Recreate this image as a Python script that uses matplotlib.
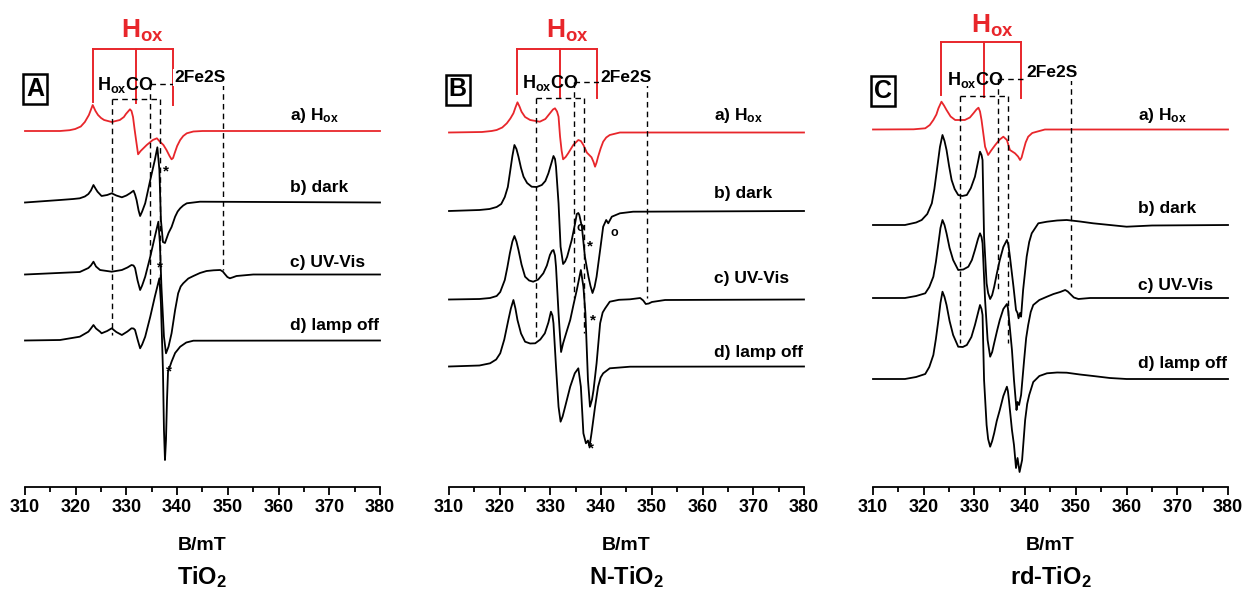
import numpy as np
import matplotlib.pyplot as plt
from matplotlib.ticker import MultipleLocator

plt.rcParams['font.family'] = 'Liberation Sans'
plt.rcParams['font.weight'] = 'bold'
plt.rcParams['mathtext.fontset'] = 'custom'
plt.rcParams['mathtext.rm'] = 'Liberation Sans:bold'
plt.rcParams['mathtext.bf'] = 'Liberation Sans:bold'
plt.rcParams['mathtext.it'] = 'Liberation Sans:bold'

RED = '#e8262b'

## EPR traces: (field / mT, intensity / a.u. relative to the trace baseline)
# panel A, TiO2
tio2_hox = [(310, 0), (316.9, 0), (318.8, 0.8), (319.9, 2), (321.0, 4.5), (321.8, 9), (322.6, 16),
            (323.35, 26), (323.9, 20), (324.4, 16), (325.0, 13), (325.6, 11), (327.1, 9), (328.7, 11),
            (329.5, 14), (329.9, 17), (330.7, 21.7), (331.0, 20), (331.3, 14), (331.6, 2), (331.9, -9),
            (332.3, -23.3), (332.8, -20), (334.0, -14), (335.2, -9), (336.0, -7.3), (336.6, -10.7),
            (337.3, -14), (337.9, -19), (338.5, -25), (338.9, -28.3), (339.2, -27), (339.5, -22.3),
            (340.0, -15), (340.6, -9), (341.2, -5), (341.9, -2.3), (343.2, -0.5), (345, 0), (380, 0)]
tio2_dark = [(310, 0), (316.9, 2.5), (319.5, 3.5), (320.8, 4.2), (321.8, 6), (322.5, 8.5), (323.0, 12),
             (323.5, 17.5), (323.9, 14), (324.3, 10.8), (325.1, 6.5), (326.2, 7.5), (327.1, 9.2), (328.0, 7),
             (329.1, 5.2), (330.0, 7), (330.7, 9.2), (331.4, 11.8), (331.7, 8), (332.0, 2.5), (332.4, -8),
             (332.7, -13.5), (333.1, -9), (333.7, -0.8), (334.7, 22.5), (335.6, 42.5), (336.1, 55.2),
             (336.5, 32.5), (336.8, -17.5), (337.2, -39.5), (337.6, -40.5), (338.3, -30.5), (338.9, -24.5),
             (339.6, -14.2), (340.1, -9), (340.6, -5.8), (341.2, -3), (341.9, -0.8), (344.5, 0.8), (380, 0)]
tio2_uv = [(310, 0), (320.8, 2.5), (322.5, 6.5), (323.0, 9), (323.5, 12.8), (324.0, 8), (324.8, 4.5),
           (327.1, 2.8), (329.1, 4.5), (330.2, 7), (331.0, 9.5), (331.4, 9), (331.7, 6.5), (332.2, -6),
           (332.7, -15.5), (333.1, -11), (333.7, -2.2), (334.7, 17.8), (335.6, 37.8), (336.3, 52.8),
           (336.6, 31.2), (336.9, -12.2), (337.4, -62.2), (337.8, -78.8), (338.3, -72.2), (338.9, -58.8),
           (339.6, -35.5), (340.2, -18.8), (340.7, -12), (341.2, -8.8), (342.2, -4), (343.2, -1.5),
           (344.5, 1.5), (345.8, 3.5), (347.2, 4.2), (348.5, 4.5), (349.0, 3), (349.4, 0.5), (349.9, -2.5),
           (350.4, -3.8), (351.0, -2.8), (351.7, -1.5), (355.0, 0), (380, 0)]
tio2_off = [(310, 0), (316.9, 0.5), (320.8, 3.8), (322.5, 8.8), (323.0, 12), (323.5, 15.5), (324.0, 12),
            (324.8, 8.8), (325.1, 7.2), (326.2, 9.5), (327.1, 12.2), (328.0, 8.5), (329.1, 5.5),
            (330.2, 9), (331.0, 12.2), (331.4, 12), (331.7, 10.5), (332.2, 1), (332.7, -7.8),
            (333.1, -4), (333.7, 3.8), (334.7, 23.8), (335.6, 43.8), (336.5, 62.2), (336.8, 37.5),
            (337.2, -29.5), (337.4, -89.5), (337.6, -119.5), (337.8, -99.5), (338.0, -59.5),
            (338.2, -31.5), (338.9, -21.2), (339.6, -12.5), (340.6, -6.2), (341.8, -2), (343.2, -0.2),
            (380, 0)]

# panel B, N-TiO2
ntio2_hox = [(310, 0), (316.5, 0.5), (318.4, 1.5), (319.4, 2.5), (320.5, 5), (321.4, 9.2), (322.1, 14),
             (322.7, 19.2), (323.1, 25), (323.5, 30.2), (323.9, 26), (324.3, 20.8), (325.0, 15.5),
             (326.0, 12.5), (327.9, 10.8), (329.0, 13.5), (329.9, 19.2), (330.5, 23), (330.9, 24.2),
             (331.3, 21), (331.6, 15.8), (331.9, -4.2), (332.2, -18), (332.5, -26.8), (333.0, -24.5),
             (333.5, -20.8), (334.5, -12.5), (335.5, -7.5), (336.0, -8.5), (336.5, -12.5), (337.2, -20.2),
             (338.1, -24.8), (338.5, -29.5), (338.8, -34.2), (339.1, -30), (339.4, -24.2), (339.9, -16),
             (340.4, -9.2), (341.0, -5), (341.7, -2.5), (343.7, 0), (380, 0)]
ntio2_dark = [(310, 0), (316.0, 1), (318.0, 2), (319.4, 4), (320.3, 7), (321.0, 14), (321.6, 24),
              (322.0, 37.7), (322.5, 55), (322.9, 66), (323.3, 62), (323.7, 54.3), (324.2, 43),
              (324.7, 34.3), (325.4, 28), (326.3, 24.3), (327.3, 24), (328.3, 26), (329.0, 30),
              (329.6, 37.7), (330.2, 48), (330.6, 55), (330.9, 52), (331.1, 44.3), (331.6, 7.7),
              (332.0, -35.7), (332.5, -53), (332.9, -50.5), (333.3, -45.7), (334.2, -29), (334.8, -14),
              (335.2, -3), (335.5, -2), (335.7, -4), (336.2, -15.7), (336.8, -45.7), (337.5, -65.7),
              (337.9, -75), (338.3, -82), (338.7, -76), (339.1, -65.7), (339.8, -39), (340.4, -15.7),
              (341.0, -9), (341.4, -12.3), (342.1, -5.7), (343.7, -2.3), (346.3, -0.7), (380, 0)]
ntio2_uv = [(310, 0), (316.0, 0.5), (318.1, 1.5), (319.4, 3.5), (320.1, 7.5), (321.0, 19.5), (321.5, 32),
            (322.0, 46.2), (322.5, 58), (322.9, 63.5), (323.3, 58), (323.7, 49.5), (324.3, 35), (325.0, 22.8),
            (325.8, 19), (326.6, 17.8), (327.6, 20), (328.6, 26.2), (329.3, 34), (329.9, 44.5), (330.3, 48.5),
            (330.6, 49.5), (330.9, 44), (331.1, 32.8), (331.6, -13.8), (332.1, -52.5), (332.5, -43.8),
            (333.2, -32), (333.9, -20.5), (334.6, -4), (335.2, 9.5), (335.7, 22), (336.0, 29.5),
            (336.5, 12.8), (336.9, -13.8), (337.4, -80.5), (337.8, -107.2), (338.2, -100), (338.5, -90.5),
            (339.1, -63.8), (339.8, -23.8), (340.3, -13), (340.8, -8.8), (341.7, -2.2), (343.5, -0.3),
            (345.7, 0.2), (347.7, 1.5), (348.3, -1), (348.8, -4.5), (349.4, -4), (350.0, -2.5),
            (352.6, -0.5), (380, 0)]
ntio2_off = [(310, 0), (316.0, 1), (318.1, 3.2), (319.3, 7), (320.1, 13.2), (320.9, 27), (321.7, 46.5),
             (322.2, 58), (322.7, 66.5), (323.1, 58), (323.5, 46.5), (324.2, 33), (325.0, 24.8), (326.0, 23),
             (327.0, 23.2), (328.0, 27), (328.9, 33.2), (329.6, 44), (330.1, 54.8), (330.4, 51), (330.6, 43.2),
             (331.1, -0.2), (331.6, -40.2), (332.0, -55.2), (332.4, -50), (332.9, -40.2), (333.9, -20.2),
             (334.8, -6.8), (335.5, -1.8), (336.0, -20.2), (336.5, -66.8), (337.0, -76.8), (337.4, -74),
             (337.7, -80.2), (338.1, -66.8), (338.8, -40.2), (339.4, -20.2), (339.9, -11), (340.4, -6.8),
             (341.7, -1.8), (345.7, -0.2), (380, 0)]

# panel C, rd-TiO2
rdtio2_hox = [(310, 0), (318.0, 0.2), (320.3, 1.2), (321.2, 4.5), (321.9, 9.5), (322.5, 15), (322.9, 21.2),
              (323.5, 27.8), (324.0, 24), (324.5, 19.5), (325.3, 13), (326.2, 9.5), (328.1, 9.5), (329.1, 12),
              (329.8, 16.2), (330.4, 20), (330.8, 21.8), (331.1, 18), (331.4, 9.5), (332.1, -17.2),
              (332.7, -25.5), (333.3, -21), (334.1, -15.5), (335.0, -10), (335.7, -7.2), (336.4, -10.5),
              (337.0, -20.5), (338.0, -23.8), (338.6, -27), (339.0, -30.5), (339.3, -28), (339.6, -22.2),
              (340.1, -13), (340.6, -7.2), (341.4, -3.5), (342.3, -2.2), (343.9, 0), (380, 0)]
rdtio2_dark = [(310, 0), (316.3, 0), (318.5, 2.5), (319.6, 5), (320.7, 11), (321.6, 21.7), (322.1, 36),
               (322.6, 55), (323.2, 78), (323.7, 90), (324.1, 84), (324.5, 75), (325.0, 59), (325.5, 45),
               (326.1, 36), (326.8, 30), (327.6, 29), (328.5, 30), (329.3, 37), (330.1, 48.3), (330.7, 63),
               (331.1, 73.3), (331.4, 70), (331.6, 65), (331.9, -11.7), (332.4, -58.3), (332.7, -68),
               (333.1, -74), (333.5, -70), (333.9, -61.7), (334.4, -49), (335.0, -35), (335.7, -22),
               (336.4, -15), (336.7, -20), (337.0, -31.7), (337.7, -61.7), (338.2, -85), (338.5, -88),
               (338.7, -93.3), (339.0, -88), (339.2, -91.7), (339.6, -65), (340.3, -31.7), (340.8, -17),
               (341.3, -8.3), (342.6, 1.7), (344.3, 3.3), (346.3, 4.5), (348.2, 5), (350.8, 3.5), (353.4, 1.7),
               (356.7, 0), (360.0, -1.7), (365, -0.5), (380, 0)]
rdtio2_uv = [(310, 0), (316.3, 0), (318.5, 2), (320.3, 4.7), (321.1, 11), (321.9, 21.3), (322.4, 36),
             (322.9, 54.7), (323.3, 70), (323.7, 78), (324.1, 73), (324.5, 64.7), (325.1, 50), (325.8, 38),
             (326.8, 28), (327.8, 28.5), (328.8, 31.3), (329.5, 38), (330.1, 48), (330.7, 59), (331.1, 64.7),
             (331.4, 61), (331.6, 54.7), (332.1, -2), (332.6, -42), (333.1, -58.7), (333.5, -54),
             (333.9, -45), (334.5, -32), (335.0, -22), (335.7, -11), (336.4, -6), (336.6, -10), (336.8, -20),
             (337.4, -52), (337.8, -82), (338.3, -112), (338.5, -104), (338.8, -107), (339.2, -97),
             (339.8, -62), (340.2, -40), (340.6, -27), (341.1, -14), (341.6, -7), (342.8, -2), (344.3, 1.3),
             (345.6, 4), (346.9, 6), (347.9, 8), (348.4, 6.5), (348.9, 4), (349.6, 0.5), (350.5, -1),
             (352.8, 0), (380, 0)]
rdtio2_off = [(310, 0), (316.3, 0), (318.5, 2), (320.3, 5), (321.1, 12), (321.9, 24), (322.4, 40),
              (322.9, 59), (323.3, 76), (323.7, 87.3), (324.1, 82), (324.5, 74), (325.1, 58), (325.8, 44),
              (326.8, 32.3), (327.7, 32), (328.5, 34), (329.4, 42), (330.1, 54), (330.7, 66), (331.1, 74),
              (331.4, 70), (331.6, 64), (331.9, -1), (332.4, -46), (332.7, -60), (333.1, -67.7), (333.5, -62),
              (333.9, -54), (334.4, -42), (335.0, -31), (335.7, -17), (336.4, -7.7), (336.6, -12),
              (336.8, -21), (337.4, -51), (337.8, -66), (338.2, -89), (338.5, -79), (338.9, -93),
              (339.4, -81), (340.0, -41), (340.4, -25), (340.8, -16), (341.6, -3), (342.8, 3), (344.3, 5.7),
              (346.3, 6.5), (348.2, 6.3), (350.8, 4.5), (353.4, 3), (356.7, 1), (360.0, 0), (380, 0)]

trace_labels = [r'a) $\mathbf{H_{ox}}$', 'b) dark', 'c) UV-Vis', 'd) lamp off']
panel_letters = ['A', 'B', 'C']
sample_names = [r'$\mathbf{TiO_2}$', r'$\mathbf{N}$-$\mathbf{TiO_2}$', r'$\mathbf{rd}$-$\mathbf{TiO_2}$']

# g-marker positions (mT)
hox_fields = [323.4, 331.8, 339.1]
hoxco_fields = [327.1, 336.7]
fe2s_fields = [334.6, 349.0]

## layout (data units of each panel, y from 0 at the axis up to 487 at the top)
panel_traces = [[tio2_hox, tio2_dark, tio2_uv, tio2_off],
                [ntio2_hox, ntio2_dark, ntio2_uv, ntio2_off],
                [rdtio2_hox, rdtio2_dark, rdtio2_uv, rdtio2_off]]
panel_offsets = [[356, 284.5, 212.5, 146.5],
                 [354.5, 276, 187.5, 120.5],
                 [357.5, 262, 189, 108]]
label_y = [[367, 295, 220, 157], [367, 289, 204, 130], [367, 274, 197, 119]]
bracket_y = [437.7, 437.7, 444.7]
bracket_bottom = [[385, 384, 382], [393, 390.3, 388.7], [392, 390.3, 388.7]]
hox_text = [(333.2, 449), (333.4, 449), (333.6, 453.7)]
hoxco_y = [387.7, 388.7, 391]
hoxco_bottom = [[152, 197], [149, 154], [144, 144]]
fe2s_y = [403, 405.3, 407.7]
fe2s_bottom = [[202, 217], [189, 189], [197, 200]]
hoxco_text = [(324.2, 397), (324.4, 399), (324.6, 402)]
fe2s_text = [(339.4, 405), (339.8, 405), (340.2, 410)]
box_pos = [(312.0, 398), (311.7, 397.5), (311.9, 396)]
marks = [[('*', 337.3, 315.3), ('*', 336.0, 219.7), ('*', 337.8, 115.3)],
         [('o', 335.2, 258.7), ('o', 341.75, 253.7), ('*', 337.3, 240.3), ('*', 337.7, 167), ('*', 337.5, 38.7)],
         []]

fig = plt.figure(figsize=(12.47, 5.96), dpi=100)
lefts = [25, 449, 873]

for k in range(3):
    ax = fig.add_axes([lefts[k] / 1247, 109 / 596, 355 / 1247, 487 / 596])
    ax.set_xlim(310, 380)
    ax.set_ylim(0, 487)
    for s in ['left', 'right', 'top']:
        ax.spines[s].set_visible(False)
    ax.spines['bottom'].set_linewidth(1.3)
    ax.set_yticks([])
    ax.xaxis.set_major_locator(MultipleLocator(10))
    ax.xaxis.set_minor_locator(MultipleLocator(5))
    ax.tick_params(axis='x', which='major', length=6, width=1.3, labelsize=13, pad=3)
    ax.tick_params(axis='x', which='minor', length=3.5, width=1.3)
    ax.set_xlabel('B/mT', fontsize=14, fontweight='bold', labelpad=15)
    ax.text(0.5, -0.185, sample_names[k], transform=ax.transAxes, ha='center', va='center', fontsize=17)

    # spectra
    for i, tr in enumerate(panel_traces[k]):
        f, inten = zip(*tr)
        ax.plot(f, np.array(inten) + panel_offsets[k][i], color=RED if i == 0 else 'black',
                lw=1.3, clip_on=False, solid_joinstyle='round')
        ax.text(362.3, label_y[k][i], trace_labels[i], fontsize=12.5, fontweight='bold', va='baseline')

    # Hox bracket (red)
    by = bracket_y[k]
    ax.plot([hox_fields[0], hox_fields[-1]], [by, by], color=RED, lw=1.4)
    for f, bot in zip(hox_fields, bracket_bottom[k]):
        ax.plot([f, f], [by, bot], color=RED, lw=1.4)
    ax.text(hox_text[k][0], hox_text[k][1], r'$\mathbf{H_{ox}}$', color=RED, fontsize=19,
            ha='center', va='baseline')

    # HoxCO and 2Fe2S brackets (dashed)
    ds = dict(color='black', lw=1.0, ls=(0, (4, 3)))
    ax.plot(hoxco_fields, [hoxco_y[k]] * 2, **ds)
    for f, bot in zip(hoxco_fields, hoxco_bottom[k]):
        ax.plot([f, f], [hoxco_y[k], bot], **ds)
    ax.plot(fe2s_fields, [fe2s_y[k]] * 2, **ds)
    for f, bot in zip(fe2s_fields, fe2s_bottom[k]):
        ax.plot([f, f], [fe2s_y[k], bot], **ds)
    ax.text(hoxco_text[k][0], hoxco_text[k][1], r'$\mathbf{H_{ox}CO}$', fontsize=13, va='baseline')
    ax.text(fe2s_text[k][0], fe2s_text[k][1], '2Fe2S', fontsize=12.5, fontweight='bold', va='baseline',
            bbox=dict(facecolor='white', edgecolor='none', pad=0.5))

    # panel letter
    ax.text(box_pos[k][0], box_pos[k][1], panel_letters[k], fontsize=18, fontweight='bold',
            ha='center', va='center',
            bbox=dict(boxstyle='square,pad=0.12', facecolor='white', edgecolor='black', lw=1.8))

    for sym, f, y in marks[k]:
        ax.text(f, y, sym, fontsize=11 if sym == '*' else 9, ha='left', va='center')

fig.savefig('out.png', dpi=100)
